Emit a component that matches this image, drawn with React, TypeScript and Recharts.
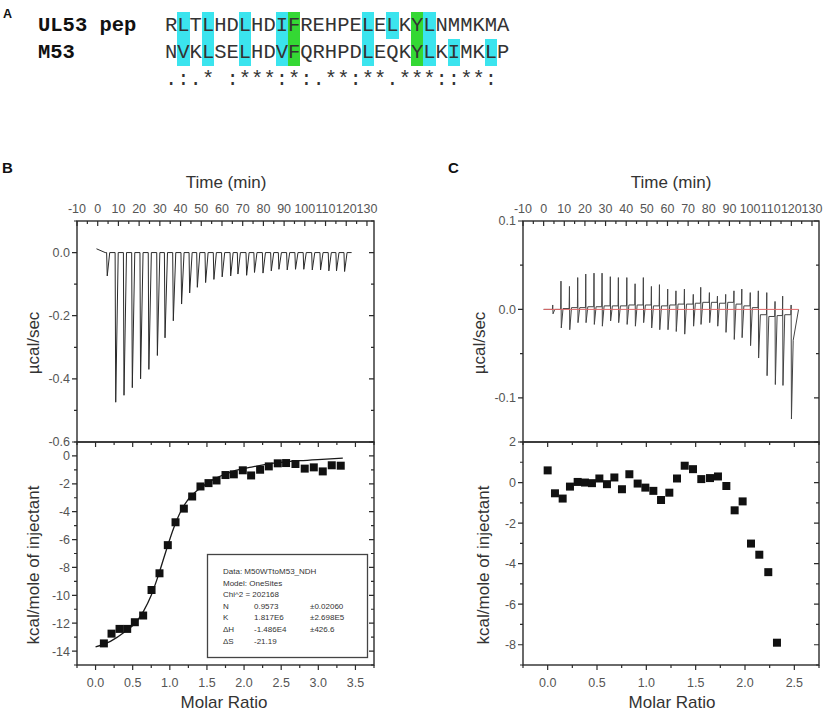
import React from "react";
import { ComposedChart, Line, Scatter, XAxis, YAxis, ZAxis } from "recharts";

// panel A: alignment
const ul53Seq = "RLTLHDLHDIFREHPELELKYLNMMKMA";
const m53Seq = "NVKLSELHDVFQRHPDLEQKYLKIMKLP";
const consensus = ".:.* :***:*:.**:**.***::**:";
const ul53Cyan = [1, 3, 6, 9, 16, 18, 21];
const ul53Green = [10, 20];
const m53Cyan = [1, 3, 6, 9, 16, 21, 23, 26];
const m53Green = [10, 20];

// panel B, raw heat (injection time in min, peak in µcal/sec)
const bInjTime = [
  4.3, 8.4, 12.4, 16.4, 20.4, 24.4, 28.5, 32.2, 36.2, 40.2, 44.1, 47.8, 51.8, 55.8, 59.8,
  63.9, 67.4, 71.6, 75.4, 79.5, 83.5, 87.2, 91.2, 95.2, 99.2, 103.3, 107.3, 111.3, 115.0, 118.9,
];
const bInjPeak = [
  -0.074, -0.474, -0.452, -0.428, -0.4, -0.37, -0.326, -0.27, -0.216, -0.163, -0.128, -0.11,
  -0.095, -0.085, -0.077, -0.074, -0.068, -0.072, -0.063, -0.065, -0.058, -0.053, -0.055,
  -0.053, -0.053, -0.055, -0.055, -0.058, -0.058, -0.06,
];
const bLeadIn = [
  { t: -0.6, v: 0.012 },
  { t: 3.6, v: 0.0 },
];
const bRunEnd = 122.6;

// panel B, integrated heats
const bRatio = [
  0.112, 0.215, 0.323, 0.426, 0.529, 0.641, 0.754, 0.861, 0.973, 1.077, 1.189, 1.301, 1.413,
  1.521, 1.629, 1.75, 1.862, 1.983, 2.095, 2.216, 2.333, 2.454, 2.566, 2.692, 2.817, 2.939,
  3.06, 3.181, 3.302,
];
const bHeat = [
  -13.45, -12.75, -12.41, -12.41, -11.93, -11.45, -9.62, -8.42, -6.4, -4.76, -3.78, -2.91,
  -2.19, -1.95, -1.76, -1.37, -1.32, -1.03, -1.4, -0.99, -0.75, -0.53, -0.51, -0.58, -0.91,
  -0.82, -1.11, -0.67, -0.7,
];
const bFitRatio = [
  0.0, 0.2, 0.4, 0.55, 0.65, 0.75, 0.85, 0.95, 1.05, 1.15, 1.25, 1.4, 1.6, 1.85, 2.1, 2.4,
  2.75, 3.05, 3.33,
];
const bFitHeat = [
  -13.7, -13.3, -12.6, -11.9, -11.1, -10.0, -8.5, -6.8, -5.2, -3.95, -3.1, -2.35, -1.65,
  -1.1, -0.8, -0.52, -0.34, -0.24, -0.16,
];

// panel C, raw heat
const cInjTime = [
  4.4, 8.4, 12.5, 16.5, 20.4, 24.4, 28.3, 32.3, 36.2, 40.3, 44.3, 48.3, 52.2, 56.1, 60.1,
  64.1, 68.2, 72.5, 76.1, 80.3, 84.2, 88.2, 92.2, 96.0, 100.1, 104.0, 108.1, 112.1, 115.8, 119.9,
];
const cUp = [
  0.005, 0.032, 0.026, 0.036, 0.04, 0.041, 0.041, 0.037, 0.036, 0.036, 0.029, 0.036, 0.026,
  0.028, 0.023, 0.021, 0.023, 0.017, 0.025, 0.019, 0.015, 0.017, 0.021, 0.023, 0.019, 0.021,
  0.019, 0.009, 0.015, 0.005,
];
const cDown = [
  -0.005, -0.021, -0.023, -0.015, -0.015, -0.017, -0.019, -0.013, -0.015, -0.017, -0.019,
  -0.015, -0.021, -0.023, -0.023, -0.025, -0.028, -0.019, -0.017, -0.015, -0.019, -0.026,
  -0.034, -0.032, -0.041, -0.055, -0.075, -0.085, -0.086, -0.124,
];
const cSettle = [
  0.0, 0.001, 0.002, 0.002, 0.003, 0.003, 0.004, 0.004, 0.004, 0.005, 0.005, 0.005, 0.004,
  0.004, 0.005, 0.006, 0.006, 0.007, 0.008, 0.008, 0.007, 0.008, 0.006, 0.004, 0.002, -0.006,
  -0.008, -0.007, -0.006, -0.035,
];
const cRunStart = 0.0;
const cRunEnd = 123.5;

// panel C, integrated heats
const cRatio = [
  0.0, 0.074, 0.152, 0.226, 0.304, 0.378, 0.449, 0.524, 0.601, 0.676, 0.753, 0.828, 0.912,
  0.99, 1.071, 1.149, 1.233, 1.311, 1.389, 1.473, 1.557, 1.645, 1.726, 1.811, 1.895, 1.976,
  2.061, 2.145, 2.236, 2.324,
];
const cHeat = [
  0.6, -0.53, -0.79, -0.2, 0.03, 0.0, -0.03, 0.2, -0.08, 0.25, -0.33, 0.41, -0.05, -0.25,
  -0.41, -0.86, -0.5, 0.2, 0.83, 0.66, 0.17, 0.22, 0.3, -0.17, -1.37, -0.93, -3.01, -3.56,
  -4.42, -7.9,
];

// axes
const timeDomain: [number, number] = [-10, 133.4];
const timeLabels = [-10, 0, 10, 20, 30, 40, 50, 60, 70, 80, 90, 100, 110, 120, 130];
const timeTicks = [
  -10, -5, 0, 5, 10, 15, 20, 25, 30, 35, 40, 45, 50, 55, 60, 65, 70, 75, 80, 85, 90, 95, 100,
  105, 110, 115, 120, 125, 130,
];
const bRawDomain: [number, number] = [-0.6, 0.1];
const bRawTicks = [0.1, 0.0, -0.1, -0.2, -0.3, -0.4, -0.5, -0.6];
const bRawLabels = [0.0, -0.2, -0.4, -0.6];
const bHeatDomain: [number, number] = [-15, 1];
const bHeatTicks = [1, 0, -1, -2, -3, -4, -5, -6, -7, -8, -9, -10, -11, -12, -13, -14, -15];
const bHeatLabels = [0, -2, -4, -6, -8, -10, -12, -14];
const bRatioDomain: [number, number] = [-0.25, 3.75];
const bRatioTicks = [-0.25, 0, 0.25, 0.5, 0.75, 1, 1.25, 1.5, 1.75, 2, 2.25, 2.5, 2.75, 3, 3.25, 3.5, 3.75];
const bRatioLabels = [0, 0.5, 1, 1.5, 2, 2.5, 3, 3.5];
const cRawDomain: [number, number] = [-0.15, 0.1];
const cRawTicks = [0.1, 0.05, 0.0, -0.05, -0.1, -0.15];
const cRawLabels = [0.1, 0.0, -0.1];
const cHeatDomain: [number, number] = [-9, 2];
const cHeatTicks = [2, 1, 0, -1, -2, -3, -4, -5, -6, -7, -8, -9];
const cHeatLabels = [2, 0, -2, -4, -6, -8];
const cRatioDomain: [number, number] = [-0.25, 2.75];
const cRatioTicks = [-0.25, 0, 0.25, 0.5, 0.75, 1, 1.25, 1.5, 1.75, 2, 2.25, 2.5, 2.75];
const cRatioLabels = [0, 0.5, 1, 1.5, 2, 2.5];

const fitRows = [
  ["N", "0.9573", "\u00b10.02060"],
  ["K", "1.817E6", "\u00b12.698E5"],
  ["\u0394H", "-1.486E4", "\u00b1426.6"],
  ["\u0394S", "-21.19", ""],
];

const SANS = '"Liberation Sans", Arial, sans-serif';
const MONO = '"Liberation Mono", "Courier New", monospace';
const CYAN = "#3be4ee";
const GREEN = "#34d834";
const AXIS = "#2b2b2b";
const tickText = { fill: "#555", fontSize: 12.5, fontFamily: SANS };

// plot boxes (px), shared by the charts' margins and the frame overlay
const B_LEFT = 77;
const B_RIGHT = 374;
const C_LEFT = 523;
const C_RIGHT = 819;
const RAW_TOP = 221;
const SPLIT = 442;
const HEAT_BOTTOM = 665;

type Pt = { t: number; v: number };

function rawTraceB(): Pt[] {
  const pts: Pt[] = bLeadIn.map((p) => ({ ...p }));
  bInjTime.forEach((t, i) => {
    pts.push({ t, v: 0 }, { t: t + 0.3, v: bInjPeak[i] }, { t: t + 1.5, v: 0 });
  });
  pts.push({ t: bRunEnd, v: 0 });
  return pts;
}

function rawTraceC(): Pt[] {
  const pts: Pt[] = [{ t: cRunStart, v: 0 }];
  cInjTime.forEach((t, i) => {
    pts.push(
      { t: t - 0.15, v: i ? cSettle[i - 1] : 0 },
      { t, v: cUp[i] },
      { t: t + 0.15, v: cDown[i] },
      { t: t + 1.0, v: cSettle[i] }
    );
  });
  pts.push({ t: cRunEnd, v: 0 });
  return pts;
}

const pairs = (xs: number[], ys: number[]) => xs.map((x, i) => ({ x, y: ys[i] }));
const isIn = (list: number[], v: number) => list.some((l) => Math.abs(l - v) < 1e-6);
const labelOnly = (list: number[], digits: number) => (v: number) => (isIn(list, v) ? v.toFixed(digits) : "");

type RawProps = {
  left: number;
  width: number;
  right: number;
  yDomain: [number, number];
  yTicks: number[];
  yLabels: number[];
  trace: Pt[];
  color: string;
  baseline?: Pt[];
};

function RawPanel(p: RawProps) {
  return (
    <div style={{ position: "absolute", left: p.left, top: 140 }}>
      <ComposedChart width={p.width} height={320} margin={{ top: 0, right: p.right, bottom: 18, left: 0 }}>
        <XAxis
          type="number"
          dataKey="t"
          orientation="top"
          domain={timeDomain}
          ticks={timeLabels}
          interval={0}
          height={RAW_TOP - 140}
          axisLine={false}
          tickLine={false}
          tickSize={4}
          tickMargin={4}
          tick={tickText}
        />
        <YAxis
          type="number"
          dataKey="v"
          domain={p.yDomain}
          ticks={p.yTicks}
          interval={0}
          width={77}
          axisLine={false}
          tickLine={false}
          tickSize={4}
          tickMargin={3}
          tick={tickText}
          tickFormatter={labelOnly(p.yLabels, 1)}
        />
        <Line data={p.trace} dataKey="v" stroke={p.color} strokeWidth={1} dot={false} isAnimationActive={false} />
        {p.baseline && (
          <Line data={p.baseline} dataKey="v" stroke="#e06a6a" strokeWidth={1} dot={false} isAnimationActive={false} />
        )}
      </ComposedChart>
    </div>
  );
}

type HeatProps = {
  left: number;
  width: number;
  right: number;
  xDomain: [number, number];
  xTicks: number[];
  xLabels: number[];
  yDomain: [number, number];
  yTicks: number[];
  yLabels: number[];
  points: { x: number; y: number }[];
  fit?: { x: number; y: number }[];
  size: number;
};

function HeatPanel(p: HeatProps) {
  return (
    <div style={{ position: "absolute", left: p.left, top: 424 }}>
      <ComposedChart width={p.width} height={290} margin={{ top: 18, right: p.right, bottom: 0, left: 0 }}>
        <XAxis
          type="number"
          dataKey="x"
          orientation="bottom"
          domain={p.xDomain}
          ticks={p.xTicks}
          interval={0}
          height={714 - HEAT_BOTTOM}
          axisLine={false}
          tickLine={false}
          tickSize={4}
          tickMargin={9}
          tick={tickText}
          tickFormatter={labelOnly(p.xLabels, 1)}
        />
        <YAxis
          type="number"
          dataKey="y"
          domain={p.yDomain}
          ticks={p.yTicks}
          interval={0}
          width={77}
          axisLine={false}
          tickLine={false}
          tickSize={4}
          tickMargin={3}
          tick={tickText}
          tickFormatter={labelOnly(p.yLabels, 0)}
        />
        <ZAxis range={[p.size, p.size]} />
        {p.fit && (
          <Line
            data={p.fit}
            dataKey="y"
            type="monotone"
            stroke="#1a1a1a"
            strokeWidth={1.3}
            dot={false}
            isAnimationActive={false}
          />
        )}
        <Scatter data={p.points} shape="square" fill="#111" isAnimationActive={false} />
      </ComposedChart>
    </div>
  );
}

// box and tick marks around one plot; left/bottom ticks point out, top/right point in
function Frame(p: {
  x0: number;
  x1: number;
  y0: number;
  y1: number;
  xd: [number, number];
  yd: [number, number];
  xt: number[];
  xl: number[];
  yt: number[];
  yl: number[];
  bottom: boolean;
}) {
  const px = (v: number) => p.x0 + ((v - p.xd[0]) / (p.xd[1] - p.xd[0])) * (p.x1 - p.x0);
  const py = (v: number) => p.y0 + ((p.yd[1] - v) / (p.yd[1] - p.yd[0])) * (p.y1 - p.y0);
  let d = "";
  p.yt.forEach((v) => {
    const len = isIn(p.yl, v) ? 5 : 3;
    const y = py(v);
    d += `M${p.x0 - len},${y}H${p.x0}M${p.x1 - len},${y}H${p.x1}`;
  });
  p.xt.forEach((v) => {
    const len = isIn(p.xl, v) ? 5 : 3;
    const x = px(v);
    d += `M${x},${p.y0}V${p.y0 + len}`;
    if (p.bottom) d += `M${x},${p.y1}V${p.y1 + len}`;
  });
  return (
    <g>
      <rect x={p.x0} y={p.y0} width={p.x1 - p.x0} height={p.y1 - p.y0} fill="none" stroke={AXIS} strokeWidth={1.4} />
      <path d={d} fill="none" stroke={AXIS} strokeWidth={1.2} />
    </g>
  );
}

function SeqRow(props: { top: number; label?: string; seq: string; cyan: number[]; green: number[] }) {
  return (
    <div style={{ position: "absolute", left: 0, top: props.top, height: 27, lineHeight: "27px", whiteSpace: "pre" }}>
      {props.label && (
        <span style={{ position: "absolute", left: 38, fontWeight: "bold", color: "#111" }}>{props.label}</span>
      )}
      <span style={{ position: "absolute", left: 165, display: "flex" }}>
        {props.seq.split("").map((ch, i) => (
          <span
            key={i}
            style={{
              display: "inline-block",
              width: "0.6em",
              height: 27,
              textAlign: "center",
              color: "#333",
              background: props.green.includes(i) ? GREEN : props.cyan.includes(i) ? CYAN : "transparent",
            }}
          >
            {ch}
          </span>
        ))}
      </span>
    </div>
  );
}

function Overlay() {
  const title = { fontFamily: SANS, fontSize: 17, fill: "#333", textAnchor: "middle" as const };
  const letter = { fontFamily: SANS, fontWeight: 700, fill: "#111" };
  const small = { fontFamily: SANS, fontSize: 8, fill: "#333" };
  return (
    <svg width={826} height={714} style={{ position: "absolute", left: 0, top: 0, pointerEvents: "none" }}>
      <text x={3} y={18} fontSize={12.5} {...letter}>A</text>
      <text x={2} y={173} fontSize={15} {...letter}>B</text>
      <text x={448} y={173} fontSize={15} {...letter}>C</text>

      <text x={226} y={188} {...title}>Time (min)</text>
      <text x={671} y={188} {...title}>Time (min)</text>
      <text x={224} y={708} {...title}>Molar Ratio</text>
      <text x={672} y={708} {...title}>Molar Ratio</text>
      <text x={39} y={343} transform="rotate(-90 39 343)" {...title}>µcal/sec</text>
      <text x={485} y={343} transform="rotate(-90 485 343)" {...title}>µcal/sec</text>
      <text x={39} y={565} transform="rotate(-90 39 565)" {...title}>kcal/mole of injectant</text>
      <text x={489} y={565} transform="rotate(-90 489 565)" {...title}>kcal/mole of injectant</text>

      <Frame x0={B_LEFT} x1={B_RIGHT} y0={RAW_TOP} y1={SPLIT} xd={timeDomain} yd={bRawDomain}
        xt={timeTicks} xl={timeLabels} yt={bRawTicks} yl={bRawLabels} bottom={false} />
      <Frame x0={B_LEFT} x1={B_RIGHT} y0={SPLIT} y1={HEAT_BOTTOM} xd={bRatioDomain} yd={bHeatDomain}
        xt={bRatioTicks} xl={bRatioLabels} yt={bHeatTicks} yl={bHeatLabels} bottom />
      <Frame x0={C_LEFT} x1={C_RIGHT} y0={RAW_TOP} y1={SPLIT} xd={timeDomain} yd={cRawDomain}
        xt={timeTicks} xl={timeLabels} yt={cRawTicks} yl={cRawLabels} bottom={false} />
      <Frame x0={C_LEFT} x1={C_RIGHT} y0={SPLIT} y1={HEAT_BOTTOM} xd={cRatioDomain} yd={cHeatDomain}
        xt={cRatioTicks} xl={cRatioLabels} yt={cHeatTicks} yl={cHeatLabels} bottom />

      <rect x={207.5} y={554.5} width={160} height={103} fill="#fff" stroke="#444" strokeWidth={1.3} />
      <text x={223} y={574} {...small}>Data: M50WTtoM53_NDH</text>
      <text x={223} y={585.5} {...small}>Model: OneSites</text>
      <text x={223} y={597} {...small}>Chi^2 = 202168</text>
      {fitRows.map((r, i) => (
        <g key={r[0]}>
          <text x={223} y={608.5 + i * 11.7} {...small}>{r[0]}</text>
          <text x={254} y={608.5 + i * 11.7} {...small}>{r[1]}</text>
          <text x={310} y={608.5 + i * 11.7} {...small}>{r[2]}</text>
        </g>
      ))}
    </svg>
  );
}

export default function App() {
  const bTrace = rawTraceB();
  const cTrace = rawTraceC();
  const cBase = [
    { t: cRunStart, v: 0 },
    { t: cRunEnd, v: 0 },
  ];
  return (
    <div style={{ position: "absolute", left: 0, top: 0, width: 826, height: 714, background: "#fff" }}>
      <div style={{ position: "absolute", left: 0, top: 12, fontFamily: MONO, fontSize: 20.5 }}>
        <SeqRow top={0} label="UL53 pep" seq={ul53Seq} cyan={ul53Cyan} green={ul53Green} />
        <SeqRow top={27} label="M53" seq={m53Seq} cyan={m53Cyan} green={m53Green} />
        <SeqRow top={54} seq={consensus} cyan={[]} green={[]} />
      </div>

      <RawPanel
        left={0}
        width={400}
        right={400 - B_RIGHT}
        yDomain={bRawDomain}
        yTicks={bRawTicks}
        yLabels={bRawLabels}
        trace={bTrace}
        color="#2a2a2a"
      />
      <RawPanel
        left={C_LEFT - 77}
        width={826 - (C_LEFT - 77)}
        right={826 - C_RIGHT}
        yDomain={cRawDomain}
        yTicks={cRawTicks}
        yLabels={cRawLabels}
        trace={cTrace}
        color="#444"
        baseline={cBase}
      />
      <HeatPanel
        left={0}
        width={400}
        right={400 - B_RIGHT}
        xDomain={bRatioDomain}
        xTicks={bRatioTicks}
        xLabels={bRatioLabels}
        yDomain={bHeatDomain}
        yTicks={bHeatTicks}
        yLabels={bHeatLabels}
        points={pairs(bRatio, bHeat)}
        fit={pairs(bFitRatio, bFitHeat)}
        size={64}
      />
      <HeatPanel
        left={C_LEFT - 77}
        width={826 - (C_LEFT - 77)}
        right={826 - C_RIGHT}
        xDomain={cRatioDomain}
        xTicks={cRatioTicks}
        xLabels={cRatioLabels}
        yDomain={cHeatDomain}
        yTicks={cHeatTicks}
        yLabels={cHeatLabels}
        points={pairs(cRatio, cHeat)}
        size={58}
      />

      <Overlay />
    </div>
  );
}
